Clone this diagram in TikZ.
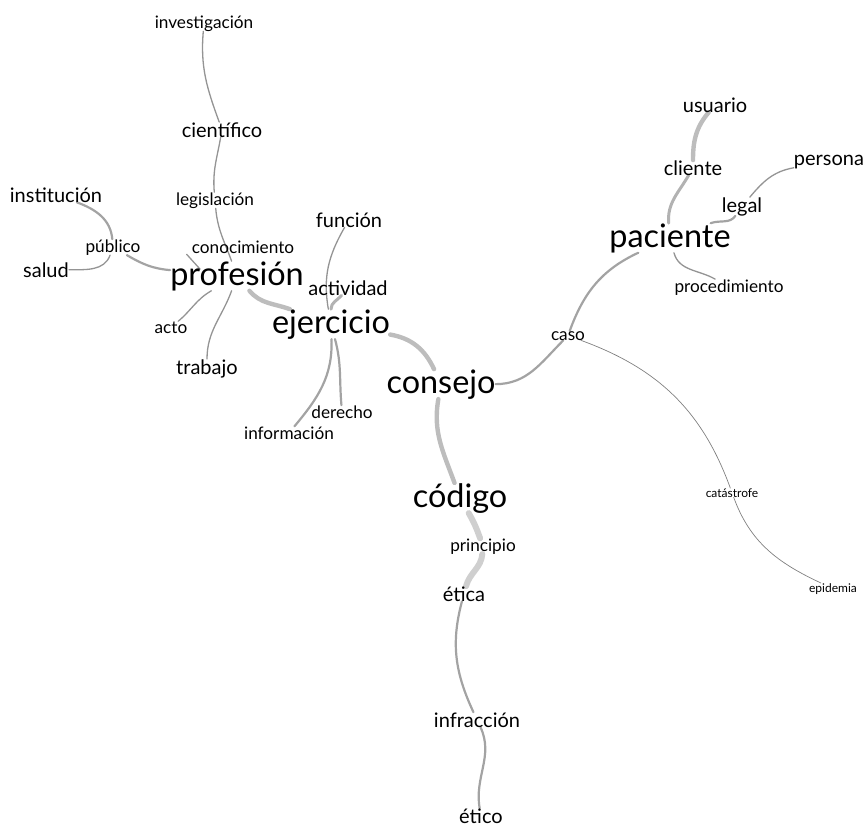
\documentclass[tikz,border=0pt]{standalone}
\usepackage{fontspec}
\setmainfont{Lato}
\usetikzlibrary{backgrounds}

\begin{document}
\begin{tikzpicture}[x=1pt,y=1pt,inner sep=0pt,anchor=base,
    w1/.style={font=\fontsize{32.4}{36}\selectfont},
    w2/.style={font=\fontsize{20}{23}\selectfont},
    w3/.style={font=\fontsize{17.2}{20}\selectfont},
    w4/.style={font=\fontsize{12}{14}\selectfont},
    lnk/.style={line cap=round},
    e1/.style={lnk, draw=black!50, line width=0.7pt},
    e2/.style={lnk, draw=black!42, line width=1.3pt},
    e3/.style={lnk, draw=black!36, line width=2.2pt},
    e4/.style={lnk, draw=black!30, line width=3pt},
    e5/.style={lnk, draw=black!26, line width=4.4pt},
    e6/.style={lnk, draw=black!19, line width=6pt}]
      \useasboundingbox (0,0) rectangle (864,-827);

      % mots
      \node[w3] (inve) at (204,-28) {investigación};
      \node[w2] (cien) at (222,-137) {científico};
      \node[w3] (legi) at (215,-205) {legislación};
      \node[w2] (inst) at (56,-202) {institución};
      \node[w3] (publ) at (113,-252) {público};
      \node[w2] (salu) at (46,-277) {salud};
      \node[w3] (cono) at (243,-253) {conocimiento};
      \node[w1] (prof) at (237,-285) {profesión};
      \node[w2] (func) at (349,-227) {función};
      \node[w2] (acti) at (348,-295) {actividad};
      \node[w1] (ejer) at (331,-333) {ejercicio};
      \node[w3] (acto) at (171,-333) {acto};
      \node[w2] (trab) at (207,-374) {trabajo};
      \node[w3] (dere) at (342,-418) {derecho};
      \node[w3] (info) at (289,-439) {información};
      \node[w1] (cons) at (441,-393) {consejo};
      \node[w3] (caso) at (568,-340) {caso};
      \node[w1] (paci) at (670,-247) {paciente};
      \node[w2] (usua) at (715,-112) {usuario};
      \node[w2] (clie) at (693,-175) {cliente};
      \node[w2] (pers) at (829,-165) {persona};
      \node[w2] (lega) at (742,-212) {legal};
      \node[w3] (proc) at (729,-292) {procedimiento};
      \node[w4] (cata) at (732,-497) {catástrofe};
      \node[w4] (epid) at (833,-592) {epidemia};
      \node[w1] (codi) at (460,-507) {código};
      \node[w3] (prin) at (483,-551) {principio};
      \node[w2] (etic) at (464,-601) {ética};
      \node[w2] (infr) at (477,-727) {infracción};
      \node[w2] (etico) at (481,-823) {ético};

      % liens
      \begin{scope}[on background layer]
      \path (prof) edge[e5, out=-50, in=160] (ejer)
            (ejer) edge[e5, out=-10, in=115] (cons)
            (cons) edge[e5, out=-100, in=110] (codi)
            (codi) edge[e6, out=-60, in=110] (prin)
            (prin) edge[e6, out=-95, in=75] (etic)
            (etic) edge[e3, out=-105, in=115] (infr)
            (infr) edge[e3, out=-65, in=100] (etico)
            (cons) edge[e3, out=0, in=-135] (caso)
            (caso) edge[e3, out=70, in=205] (paci)
            (paci) edge[e4, out=95, in=-120] (clie)
            (clie) edge[e5, out=90, in=-130] (usua)
            (paci) edge[e3, out=20, in=-125] (lega)
            (lega) edge[e2, out=50, in=190] (pers)
            (paci) edge[e2, out=-75, in=150] (proc)
            (caso) edge[e1, out=-20, in=110] (cata)
            (cata) edge[e1, out=-70, in=155] (epid)
            (ejer) edge[e4, out=90, in=-130] (acti)
            (ejer) edge[e2, out=100, in=-120] (func)
            (ejer) edge[e3, out=-88, in=50] (info)
            (ejer) edge[e3, out=-75, in=95] (dere)
            (prof) edge[e3, out=175, in=-30] (publ)
            (publ) edge[e3, out=95, in=-20] (inst)
            (publ) edge[e2, out=-110, in=0] (salu)
            (prof) edge[e2, out=-150, in=40] (acto)
            (prof) edge[e2, out=-110, in=90] (trab)
            (legi) edge[e2, out=-85, in=110] (prof)
            (cien) edge[e2, out=-100, in=95] (legi)
            (inve) edge[e2, out=-95, in=110] (cien);
      \draw[e2] ([shift={(-5,-1)}]cono.south west) -- ([shift={(30,-8)}]prof.north west);
      \end{scope}
\end{tikzpicture}
\end{document}
